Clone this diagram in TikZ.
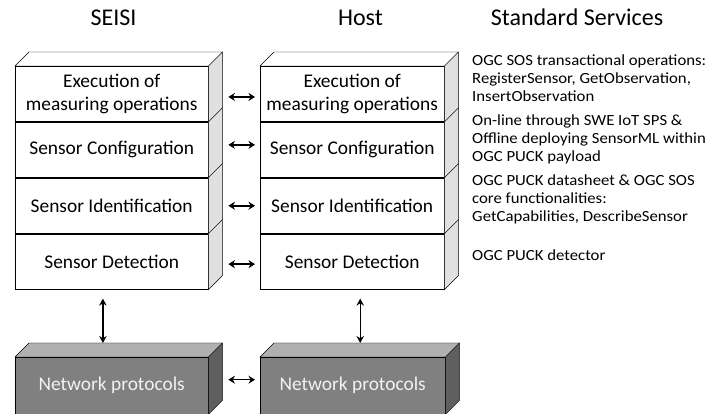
\documentclass[tikz,border=0pt]{standalone}
\usepackage{fontspec}
\setmainfont{Carlito}
\newfontfamily\svcfont[FakeStretch=1.08]{Carlito}
\usetikzlibrary{arrows.meta}
\definecolor{sidegray}{HTML}{E0E0E0}
\definecolor{netfront}{HTML}{808080}
\definecolor{nettop}{HTML}{B0B0B0}
\definecolor{netside}{HTML}{5F5F5F}
\definecolor{nettext}{HTML}{F2F2F2}
\begin{document}
\begin{tikzpicture}[x=1pt,y=-1pt,
  layer/.style={draw, fill=white, anchor=north west, inner sep=0pt,
    align=center, minimum height=55.5pt, font=\fontsize{19.4}{23.5}\selectfont},
  netbox/.style={draw, fill=netfront, anchor=north west, inner sep=0pt,
    minimum height=57pt, text=nettext, font=\fontsize{19.4}{23.5}\selectfont},
  title/.style={anchor=base, font=\fontsize{24}{28}\selectfont},
  svc/.style={anchor=base west, align=left, inner sep=0pt,
    font=\svcfont\fontsize{15.5}{17.8}\selectfont},
  harrow/.style={line width=1.6pt, {Stealth[length=6.5pt,width=8pt]}-{Stealth[length=6.5pt,width=8pt]}},
  varrow/.style={line width=1.3pt, {Stealth[length=7pt,width=7.5pt]}-{Stealth[length=7pt,width=7.5pt]}},
  side/.style={draw, fill=sidegray},
]
\useasboundingbox (0,0) rectangle (721,414);

% column titles
\node[title] (tseisi) at (113.5,26) {SEISI};
\node[title] (thost)  at (360.5,26) {Host};
\node[title] (tstd)   at (577,26) {Standard Services};

% SEISI stack
\node[layer, minimum width=193pt] (s1) at (15,66) {Execution of\\measuring operations};
\node[layer, minimum width=193pt] (s2) at (s1.south west) {Sensor Configuration};
\node[layer, minimum width=193pt] (s3) at (s2.south west) {Sensor Identification};
\node[layer, minimum width=193pt] (s4) at (s3.south west) {Sensor Detection};

% Host stack
\node[layer, minimum width=184pt] (h1) at (260,66) {Execution of\\measuring operations};
\node[layer, minimum width=184pt] (h2) at (h1.south west) {Sensor Configuration};
\node[layer, minimum width=184pt] (h3) at (h2.south west) {Sensor Identification};
\node[layer, minimum width=184pt] (h4) at (h3.south west) {Sensor Detection};

% right-hand faces and top faces of the layer blocks
\foreach \n in {s1,s2,s3,s4,h1,h2,h3,h4}
  \draw[side] (\n.north east) -- ++(14,-14) -- ([shift={(14,-14)}]\n.south east) -- (\n.south east) -- cycle;
\foreach \n in {s1,h1}
  \draw[fill=white] (\n.north west) -- ++(14,-14) -- ([shift={(14,-14)}]\n.north east) -- (\n.north east) -- cycle;

% network blocks
\node[netbox, minimum width=193pt] (sn) at (15,357) {Network protocols};
\node[netbox, minimum width=185pt] (hn) at (260,357) {Network protocols};
\foreach \n in {sn,hn}{
  \draw[fill=netside] (\n.north east) -- ++(14,-14) -- ([shift={(14,-14)}]\n.south east) -- (\n.south east) -- cycle;
  \draw[fill=nettop] (\n.north west) -- ++(14,-14) -- ([shift={(14,-14)}]\n.north east) -- (\n.north east) -- cycle;
}

% links between the two stacks
\draw[harrow] ([xshift=20pt,yshift=-3pt]s1.east) -- ([xshift=-5pt,yshift=-3pt]h1.west);
\draw[harrow] ([xshift=20pt,yshift=5pt]s2.east) -- ([xshift=-5pt,yshift=5pt]h2.west);
\draw[harrow] ([xshift=20pt]s3.east) -- ([xshift=-5pt]h3.west);
\draw[harrow] ([xshift=20pt,yshift=-2.5pt]s4.east) -- ([xshift=-5pt,yshift=-2.5pt]h4.west);
\draw[harrow] ([xshift=20pt,yshift=6pt]sn.east) -- ([xshift=-5pt,yshift=6pt]hn.west);

% links from the stacks down to the network blocks
\draw[varrow] ([xshift=-8.8pt,yshift=-9pt]s4.south) -- ([xshift=-8.8pt,yshift=14pt]sn.north);
\draw[varrow] ([xshift=8pt,yshift=-9pt]h4.south) -- ([xshift=7.5pt,yshift=14pt]hn.north);

% standard services (each node is anchored on the baseline of its last line)
\node[svc] (c1) at (472,101.6) {OGC SOS transactional operations:\\RegisterSensor, GetObservation,\\InsertObservation};
\node[svc] (c2) at (472,161.6) {On-line through SWE IoT SPS \&\\Offline deploying SensorML within\\OGC PUCK payload};
\node[svc] (c3) at (472,221.6) {OGC PUCK datasheet \& OGC SOS\\core functionalities:\\GetCapabilities, DescribeSensor};
\node[svc] (c4) at (472,261) {OGC PUCK detector};
\end{tikzpicture}
\end{document}
